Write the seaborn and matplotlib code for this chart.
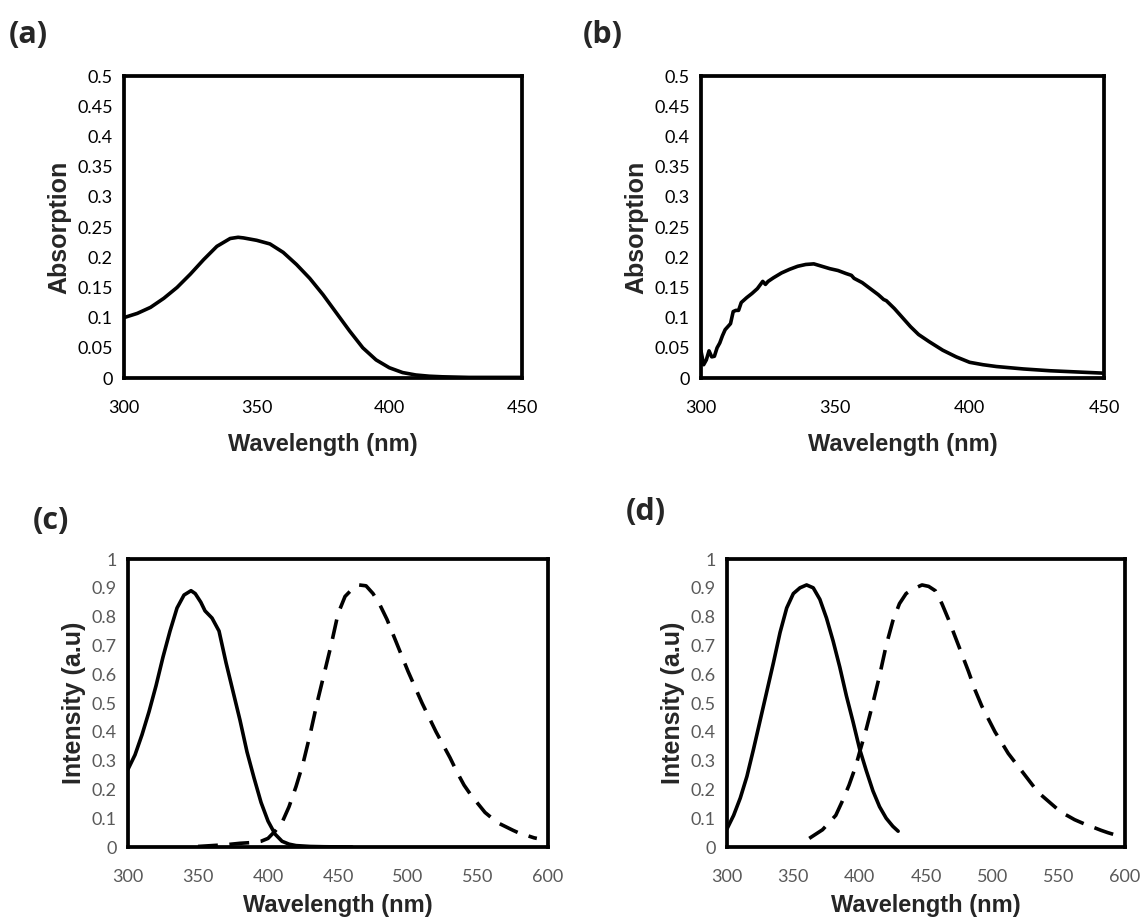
import matplotlib
matplotlib.use("Agg")
import matplotlib.pyplot as plt
import matplotlib.ticker as mticker
import seaborn as sns

# panel (a) absorption
a_wl = [300, 305, 310, 315, 320, 325, 330, 335, 340, 343, 345, 350, 355, 360, 365,
        370, 375, 380, 385, 390, 395, 400, 405, 410, 415, 420, 430, 440, 450]
a_abs = [0.100, 0.107, 0.117, 0.132, 0.150, 0.172, 0.196, 0.218, 0.231, 0.233, 0.232,
         0.228, 0.222, 0.208, 0.188, 0.165, 0.138, 0.108, 0.078, 0.050, 0.030, 0.017,
         0.009, 0.005, 0.003, 0.002, 0.001, 0.001, 0.001]

# panel (b) absorption (noisy)
b_wl = [300, 301, 302, 303, 304, 305, 306, 307, 308, 309, 310, 311, 312, 313, 314, 315,
        317, 319, 321, 323, 324, 325, 327, 330, 333, 336, 339, 342, 345, 348, 351, 354,
        356, 357, 360, 363, 366, 368, 369, 372, 375, 377, 378, 381, 385, 390, 395, 400,
        405, 410, 420, 430, 440, 450]
b_abs = [0.045, 0.022, 0.030, 0.045, 0.035, 0.036, 0.050, 0.058, 0.070, 0.080, 0.085,
         0.090, 0.110, 0.112, 0.112, 0.125, 0.133, 0.140, 0.148, 0.160, 0.155, 0.160,
         0.166, 0.174, 0.180, 0.185, 0.188, 0.189, 0.185, 0.181, 0.178, 0.173, 0.170,
         0.165, 0.158, 0.148, 0.138, 0.130, 0.128, 0.115, 0.100, 0.090, 0.085, 0.072,
         0.060, 0.046, 0.035, 0.026, 0.022, 0.019, 0.015, 0.012, 0.010, 0.008]

# panel (c) excitation (solid) and emission (dashed)
c_ex_wl = [300, 305, 310, 315, 320, 325, 330, 335, 340, 345, 348, 352, 355, 360, 365,
           370, 375, 380, 385, 390, 395, 400, 405, 410, 415, 420, 430, 440, 460]
c_ex = [0.27, 0.32, 0.39, 0.47, 0.56, 0.66, 0.75, 0.83, 0.875, 0.89, 0.88, 0.85, 0.82,
        0.795, 0.75, 0.64, 0.54, 0.44, 0.33, 0.24, 0.155, 0.09, 0.045, 0.02, 0.01,
        0.005, 0.002, 0.001, 0.0]
c_em_wl = [350, 360, 370, 380, 390, 395, 400, 405, 410, 415, 420, 425, 430, 435, 440,
           445, 450, 455, 460, 465, 470, 475, 480, 485, 490, 495, 500, 505, 510, 515,
           520, 525, 530, 535, 540, 545, 550, 555, 560, 565, 570, 575, 580, 585, 590, 592]
c_em = [0.002, 0.005, 0.008, 0.013, 0.016, 0.02, 0.03, 0.055, 0.085, 0.14, 0.21, 0.29,
        0.39, 0.5, 0.6, 0.7, 0.81, 0.87, 0.895, 0.91, 0.907, 0.88, 0.84, 0.79, 0.73,
        0.67, 0.61, 0.555, 0.5, 0.45, 0.4, 0.355, 0.31, 0.26, 0.215, 0.18, 0.15, 0.12,
        0.1, 0.082, 0.07, 0.058, 0.047, 0.04, 0.032, 0.03]

# panel (d) excitation (solid) and emission (dashed)
d_ex_wl = [300, 305, 310, 315, 320, 325, 330, 335, 340, 345, 350, 355, 360, 365, 370,
           375, 380, 385, 390, 395, 400, 405, 410, 415, 420, 425, 429]
d_ex = [0.063, 0.11, 0.17, 0.245, 0.34, 0.44, 0.54, 0.64, 0.745, 0.83, 0.88, 0.9, 0.91,
        0.9, 0.86, 0.795, 0.715, 0.625, 0.525, 0.435, 0.34, 0.265, 0.195, 0.14, 0.1,
        0.072, 0.055]
d_em_wl = [362, 367, 372, 377, 382, 387, 392, 397, 400, 405, 410, 415, 420, 425, 430,
           435, 440, 447, 452, 457, 462, 467, 472, 477, 482, 487, 492, 497, 502, 507,
           512, 517, 522, 527, 532, 537, 542, 547, 552, 557, 562, 567, 572, 577, 582,
           587, 592, 597]
d_em = [0.03, 0.045, 0.06, 0.085, 0.11, 0.16, 0.215, 0.28, 0.33, 0.41, 0.5, 0.595, 0.7,
        0.785, 0.845, 0.88, 0.895, 0.91, 0.905, 0.89, 0.845, 0.79, 0.73, 0.67, 0.61,
        0.545, 0.49, 0.445, 0.4, 0.363, 0.325, 0.295, 0.265, 0.235, 0.205, 0.18, 0.16,
        0.14, 0.12, 0.108, 0.095, 0.085, 0.075, 0.067, 0.058, 0.05, 0.043, 0.035]

sns.set_style("white")
plt.rcParams["font.family"] = ["Lato", "DejaVu Sans"]

fig = plt.figure(figsize=(11.42, 9.24), dpi=100)

boxes = {
    "a": [0.1086, 0.5909, 0.3485, 0.3268],
    "b": [0.6138, 0.5909, 0.3529, 0.3268],
    "c": [0.1121, 0.0833, 0.3678, 0.3117],
    "d": [0.6366, 0.0833, 0.3485, 0.3117],
}
tag_pos = {"a": (0.008, 0.978), "b": (0.510, 0.978), "c": (0.029, 0.452), "d": (0.548, 0.462)}

LW = 2.6
DASH = (0, (5.5, 3.2))


def style_axes(ax, xmax, ymax, ystep, xstep, ylabel, tick_color, xlpad):
    ax.set_xlim(300, xmax)
    ax.set_ylim(0, ymax)
    ax.xaxis.set_major_locator(mticker.MultipleLocator(xstep))
    ax.yaxis.set_major_locator(mticker.MultipleLocator(ystep))
    ax.yaxis.set_major_formatter(mticker.FuncFormatter(lambda v, p: f"{round(v, 3):g}"))
    for s in ax.spines.values():
        s.set_visible(True)
        s.set_color("black")
        s.set_linewidth(2.7)
    ax.tick_params(axis="both", direction="out", length=5, width=2, color="black",
                   labelsize=13, labelcolor=tick_color, pad=3)
    ax.tick_params(axis="x", pad=11)
    ax.set_xlabel("Wavelength (nm)", fontsize=17, fontweight="bold",
                  family=["Liberation Sans"], labelpad=xlpad)
    ax.set_ylabel(ylabel, fontsize=18, fontweight="bold", family=["Liberation Sans"], labelpad=4)
    ax.grid(False)


ax = fig.add_axes(boxes["a"])
sns.lineplot(x=a_wl, y=a_abs, ax=ax, color="black", lw=LW, estimator=None, sort=False)
style_axes(ax, 450, 0.5, 0.05, 50, "Absorption", "black", 12)

ax = fig.add_axes(boxes["b"])
sns.lineplot(x=b_wl, y=b_abs, ax=ax, color="black", lw=LW, estimator=None, sort=False)
style_axes(ax, 450, 0.5, 0.05, 50, "Absorption", "black", 12)

ax = fig.add_axes(boxes["c"])
sns.lineplot(x=c_ex_wl, y=c_ex, ax=ax, color="black", lw=LW, estimator=None, sort=False)
sns.lineplot(x=c_em_wl, y=c_em, ax=ax, color="black", lw=LW, estimator=None, sort=False,
             linestyle=DASH)
style_axes(ax, 600, 1.0, 0.1, 50, "Intensity (a.u)", "#595959", 6)

ax = fig.add_axes(boxes["d"])
sns.lineplot(x=d_ex_wl, y=d_ex, ax=ax, color="black", lw=LW, estimator=None, sort=False)
sns.lineplot(x=d_em_wl, y=d_em, ax=ax, color="black", lw=LW, estimator=None, sort=False,
             linestyle=DASH)
style_axes(ax, 600, 1.0, 0.1, 50, "Intensity (a.u)", "#595959", 6)

for k, (x, y) in tag_pos.items():
    fig.text(x, y, f"({k})", fontsize=22, fontweight="bold", family=["Open Sans", "DejaVu Sans"],
             ha="left", va="top")

fig.savefig("out.png", dpi=100)
